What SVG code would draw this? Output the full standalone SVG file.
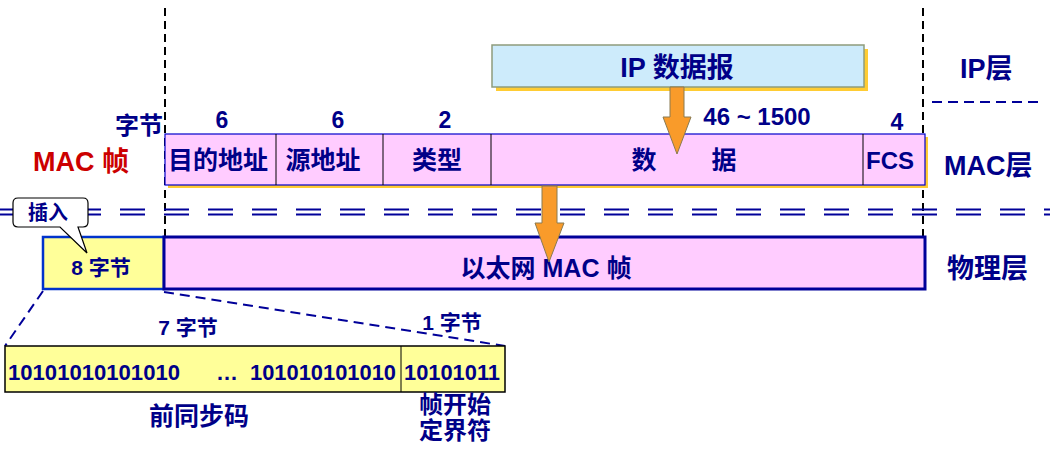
<svg xmlns="http://www.w3.org/2000/svg" width="1050" height="458" viewBox="0 0 1050 458">
<defs>
<style>
text{font-family:"Liberation Sans","Noto Sans CJK SC",sans-serif;font-weight:bold;fill:#000088}
.c{text-anchor:middle}
.n{font-size:23px}
.f{font-size:25px}
.lay{font-size:27px}
.vd{stroke:#000;stroke-width:2;stroke-dasharray:8 5;fill:none}
.dd{stroke:#000099;stroke-width:2.2;stroke-dasharray:25 19;fill:none}
.zd{stroke:#000099;stroke-width:2;stroke-dasharray:10 6;fill:none}
.arrow{fill:#f99b2a;stroke:#8a7a50;stroke-width:1}
.div{stroke:#000;stroke-width:1}
</style>
</defs>
<rect width="1050" height="458" fill="#fff"/>

<g id="connectors">
<line class="vd" x1="165" y1="8" x2="165" y2="237"/>
<line class="vd" x1="923" y1="8" x2="923" y2="237"/>
<line class="zd" x1="932" y1="102" x2="1040" y2="102"/>
<line class="dd" x1="-12" y1="209.5" x2="1050" y2="209.5"/>
<line class="dd" x1="-12" y1="214.5" x2="1050" y2="214.5"/>
<line class="zd" x1="43" y1="291" x2="5" y2="346"/>
<line class="zd" x1="164" y1="292" x2="505" y2="346"/>
</g>

<g id="ip-datagram">
<rect x="496" y="49" width="372" height="42" fill="#ffcc33"/>
<rect x="492" y="45" width="372" height="42" fill="#cdebfb" stroke="#8e9c7c" stroke-width="1.5"/>
<text class="c" x="677" y="77" font-size="27">IP 数据报</text>
</g>

<g id="mac-frame">
<rect x="168" y="137" width="760" height="51" fill="#ffcc33"/>
<rect x="165" y="134" width="760" height="51" fill="#ffccff" stroke="#0000cc" stroke-width="1.2"/>
<line class="div" x1="276" y1="134" x2="276" y2="185"/>
<line class="div" x1="383" y1="134" x2="383" y2="185"/>
<line class="div" x1="491" y1="134" x2="491" y2="185"/>
<line class="div" x1="863" y1="134" x2="863" y2="185"/>
<text class="c f" x="218" y="169">目的地址</text>
<text class="c f" x="323" y="169">源地址</text>
<text class="c f" x="437" y="169">类型</text>
<text class="c f" x="644" y="169">数</text>
<text class="c f" x="724" y="169">据</text>
<text class="c" x="890" y="169" font-size="24">FCS</text>
<text class="c n" x="222" y="128">6</text>
<text class="c n" x="338" y="128">6</text>
<text class="c n" x="445" y="128">2</text>
<text class="c" x="757" y="125" font-size="24">46 ~ 1500</text>
<text class="c n" x="897" y="130">4</text>
<text x="163" y="134" font-size="24" text-anchor="end">字节</text>
</g>

<g id="mac-label"><text x="33" y="171" font-size="27" style="fill:#cc0000">MAC 帧</text></g>
<g id="ip-layer"><text class="lay" x="960" y="78">IP层</text></g>
<g id="mac-layer"><text class="lay" x="944" y="175">MAC层</text></g>
<g id="phys-layer"><text class="lay" x="947" y="278">物理层</text></g>

<g id="preamble8">
<rect x="43" y="237" width="121" height="52" fill="#ffff99" stroke="#0033cc" stroke-width="2.5"/>
<text class="c" x="101" y="275" font-size="21">8 字节</text>
</g>

<g id="ethernet-frame">
<rect x="164" y="237" width="761" height="52" fill="#ffccff" stroke="#000099" stroke-width="3"/>
<text class="c" x="546" y="277" font-size="25">以太网 MAC 帧</text>
</g>

<g id="arrows">
<path class="arrow" d="M670,87 H684 V117 H691 L677,154 L663,117 H670 Z"/>
<path class="arrow" d="M542,186 H557 V223 H564 L549,262 L535,223 H542 Z"/>
</g>

<g id="callout">
<path d="M18,198 H83 Q88,198 88,203 V222 Q88,227 83,227 H78 L87,253 L60,227 H18 Q13,227 13,222 V203 Q13,198 18,198 Z" fill="#fff" stroke="#000" stroke-width="1.2"/>
<text class="c" x="48" y="220" font-size="20">插入</text>
</g>

<g id="preamble-detail">
<rect x="5" y="346" width="500" height="46" fill="#ffff99" stroke="#000" stroke-width="1.5"/>
<line class="div" x1="401" y1="346" x2="401" y2="392" stroke-width="1.5"/>
<text x="8" y="380" font-size="22" textLength="172" lengthAdjust="spacingAndGlyphs">10101010101010</text>
<text x="216" y="380" font-size="22">…</text>
<text x="250" y="380" font-size="22" textLength="146" lengthAdjust="spacingAndGlyphs">101010101010</text>
<text x="404" y="380" font-size="22" textLength="96" lengthAdjust="spacingAndGlyphs">10101011</text>
<text class="c" x="188" y="335" font-size="21">7 字节</text>
<text class="c" x="452" y="330" font-size="21">1 字节</text>
<text class="c" x="199" y="425" font-size="25">前同步码</text>
<text class="c" x="455" y="413" font-size="24">帧开始</text>
<text class="c" x="455" y="439" font-size="24">定界符</text>
</g>
</svg>
